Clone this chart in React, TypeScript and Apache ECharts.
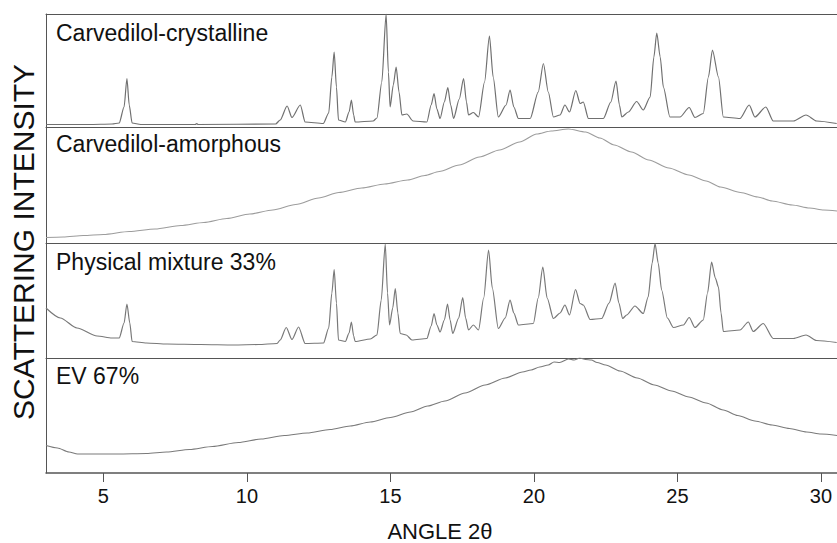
import React, { useEffect, useRef } from "react";
import * as echarts from "echarts";

// 2θ range of the shared x axis
const X_MIN = 3;
const X_MAX = 30.56;
const TICK_VALUES = [5, 10, 15, 20, 25, 30];

const PANEL_TITLES = [
  "Carvedilol-crystalline",
  "Carvedilol-amorphous",
  "Physical mixture 33%",
  "EV 67%",
];

// intensities (arbitrary units)
const crystalline: [number, number][] = [
  [3.0, 2.5], [4.5, 2.5], [5.3, 3], [5.55, 4], [5.72, 20], [5.82, 48.5], [5.9, 22], [6.0, 4], [6.3, 2.5],
  [8.2, 2.5], [8.25, 3.5], [8.3, 2.5], [11.0, 3], [11.16, 7], [11.4, 21], [11.57, 9.5], [11.86, 22],
  [12.03, 5], [12.66, 3.5], [12.85, 14], [12.96, 50], [13.04, 75], [13.12, 40], [13.19, 7], [13.43, 5],
  [13.56, 15], [13.64, 27], [13.72, 12], [13.77, 5], [14.4, 6], [14.53, 9], [14.7, 45], [14.85, 113], [14.93, 55],
  [14.99, 20], [15.1, 42], [15.2, 60], [15.3, 35], [15.4, 12], [15.57, 13], [15.79, 6], [16.27, 5],
  [16.42, 22], [16.52, 33.5], [16.62, 18], [16.73, 8.5], [16.88, 25], [17.0, 39.5], [17.1, 22], [17.2, 8.5],
  [17.4, 28], [17.55, 48.5], [17.65, 25], [17.72, 12], [17.89, 14.5], [18.07, 10], [18.28, 45], [18.45, 91],
  [18.58, 50], [18.76, 10], [19.03, 22], [19.17, 37], [19.3, 20], [19.46, 8.5], [19.87, 8.5], [20.15, 35],
  [20.33, 63.5], [20.5, 35], [20.68, 10], [20.91, 12], [21.08, 22], [21.24, 15], [21.46, 36.5], [21.61, 23.5],
  [21.72, 25], [21.9, 8.5], [22.42, 8.5], [22.68, 25], [22.86, 46], [22.98, 22], [23.06, 10], [23.29, 15],
  [23.58, 25.5], [23.81, 17], [24.05, 30], [24.18, 70], [24.28, 94], [24.4, 70], [24.51, 40], [24.74, 10],
  [25.09, 10], [25.41, 19.5], [25.61, 9.5], [25.9, 13.5], [26.08, 50], [26.22, 77], [26.43, 50], [26.6, 10],
  [27.18, 8.5], [27.5, 22], [27.7, 10], [28.08, 20], [28.34, 6], [29.04, 6], [29.48, 12], [29.85, 6],
  [30.55, 3.5],
];

const amorphous: [number, number][] = [
  [3.0, 5.5], [3.6, 6], [4.3, 7.5], [5.0, 8.5], [5.9, 11.5], [6.8, 14], [7.7, 17.5], [8.5, 20.5],
  [9.3, 24.5], [10.1, 29], [10.9, 33], [11.7, 38.5], [12.5, 45], [13.2, 50.5], [14.0, 55], [14.8, 59],
  [15.6, 63], [16.2, 67.5], [16.7, 71.5], [17.4, 78], [18.1, 86], [18.8, 93], [19.5, 101], [20.1, 109],
  [20.6, 112], [21.2, 114], [21.8, 111], [22.3, 105], [22.8, 98], [23.4, 91], [24.0, 83], [24.7, 75],
  [25.4, 68], [26.0, 62], [26.5, 56], [27.2, 50.5], [27.8, 46], [28.3, 42], [29.0, 38], [29.6, 35],
  [30.1, 33], [30.56, 32],
];

const physicalMixture: [number, number][] = [
  [3.0, 50], [3.5, 40], [4.08, 30], [4.78, 22], [5.3, 20], [5.55, 20], [5.72, 35], [5.82, 54], [5.92, 35],
  [6.0, 16.5], [6.5, 15], [7.22, 14], [8.4, 13.5], [9.54, 13], [10.4, 13.5], [11.05, 14.5], [11.16, 18],
  [11.37, 30.5], [11.57, 18.5], [11.8, 31], [12.03, 14.5], [12.67, 15], [12.85, 30], [12.96, 65],
  [13.04, 88.5], [13.12, 55], [13.19, 18], [13.43, 16.5], [13.56, 25], [13.64, 36], [13.72, 22],
  [13.77, 16.5], [14.3, 19], [14.53, 23], [14.68, 58], [14.82, 114], [14.9, 65], [14.97, 33], [15.08, 50],
  [15.17, 69.5], [15.26, 45], [15.34, 24.5], [15.55, 23], [15.75, 18], [16.27, 19.5], [16.42, 32],
  [16.52, 44.5], [16.62, 33], [16.73, 26], [16.88, 38], [16.99, 54], [17.08, 38], [17.17, 24.5], [17.38, 40],
  [17.52, 60.5], [17.62, 40], [17.72, 28], [17.89, 33], [18.07, 28], [18.25, 60], [18.42, 108], [18.55, 70],
  [18.76, 29.5], [19.0, 40], [19.17, 58], [19.3, 45], [19.46, 33], [19.98, 34.5], [20.15, 60], [20.31, 91],
  [20.46, 60], [20.68, 39.5], [20.91, 45], [21.08, 53], [21.24, 43], [21.45, 68.5], [21.61, 54.5],
  [21.72, 53], [21.96, 38.5], [22.36, 39.5], [22.62, 55], [22.83, 75], [22.96, 55], [23.09, 39.5],
  [23.23, 43], [23.52, 52], [23.81, 44.5], [23.98, 61], [24.12, 95], [24.22, 114.5], [24.33, 95],
  [24.45, 68], [24.65, 40], [24.86, 30.5], [25.21, 33], [25.41, 40.5], [25.61, 30.5], [25.9, 38],
  [26.05, 65], [26.19, 96], [26.32, 80], [26.43, 71], [26.52, 45], [26.6, 26.5], [27.18, 28], [27.47, 36],
  [27.64, 26.5], [27.99, 34.5], [28.34, 19.5], [29.04, 19.5], [29.48, 23], [29.85, 17.5], [30.55, 15.5],
];

const ev67: [number, number][] = [
  [3.0, 27.5], [3.4, 25], [3.8, 21], [4.1, 19], [4.6, 19], [5.5, 19], [6.5, 19.5], [7.2, 21], [8.0, 23.5],
  [8.8, 26.5], [9.7, 30.5], [10.5, 34], [11.3, 37.5], [12.1, 40], [12.9, 43.5], [13.6, 47], [14.3, 51],
  [15.0, 55.5], [15.7, 61], [16.3, 67], [16.9, 72], [17.6, 80], [18.3, 88], [19.0, 95], [19.6, 101],
  [19.9, 103], [20.2, 106], [20.5, 108], [20.7, 111], [20.9, 110.5], [21.2, 114], [21.4, 113], [21.6, 115],
  [21.8, 113.5], [22.0, 113], [22.2, 110.5], [22.5, 108], [23.0, 102], [23.6, 95], [24.2, 88], [24.8, 82],
  [25.4, 76], [26.0, 70], [26.6, 63], [27.1, 57.5], [27.7, 52], [28.3, 48], [28.9, 44.5], [29.5, 41],
  [30.0, 39], [30.56, 37.5],
];

const SERIES_DATA = [crystalline, amorphous, physicalMixture, ev67];

// layout (pixels)
const PANEL_TOPS = [14, 127, 243, 358];
const PANEL_HEIGHTS = [113, 116, 115, 115];
const LINE_COLORS = ["#707070", "#9c9c9c", "#787878", "#7a7a7a"];
const FONT = "'Liberation Sans', Arial, Helvetica, sans-serif";

export default function App() {
  const ref = useRef<HTMLDivElement>(null);

  useEffect(() => {
    if (!ref.current) return;
    const chart = echarts.init(ref.current, undefined, { renderer: "svg" });
    const border = { show: true, lineStyle: { color: "#555", width: 1 } };

    const grids = PANEL_TOPS.map((top, i) => ({
      left: 46,
      right: 0,
      top,
      height: PANEL_HEIGHTS[i],
      containLabel: false,
    }));

    const xAxes: any[] = PANEL_TOPS.map((_, i) => {
      const last = i === PANEL_TOPS.length - 1;
      return {
        type: "value",
        gridIndex: i,
        min: X_MIN,
        max: X_MAX,
        position: "bottom",
        axisLine: last ? { show: true, lineStyle: { color: "#555", width: 1.5 } } : border,
        axisTick: last
          ? { show: true, customValues: TICK_VALUES, length: 9, lineStyle: { color: "#555", width: 1 } }
          : { show: false },
        axisLabel: last
          ? { show: true, customValues: TICK_VALUES, fontSize: 20, color: "#111", fontFamily: FONT, margin: 13 }
          : { show: false },
        splitLine: { show: false },
      };
    });
    xAxes.push({
      type: "value",
      gridIndex: 0,
      min: X_MIN,
      max: X_MAX,
      position: "top",
      axisLine: border,
      axisTick: { show: false },
      axisLabel: { show: false },
      splitLine: { show: false },
    });

    const yAxes = PANEL_TOPS.map((_, i) => ({
      type: "value",
      gridIndex: i,
      min: 0,
      max: PANEL_HEIGHTS[i],
      axisLine: border,
      axisTick: { show: false },
      axisLabel: { show: false },
      splitLine: { show: false },
    }));

    const series = SERIES_DATA.map((data, i) => ({
      type: "line",
      xAxisIndex: i,
      yAxisIndex: i,
      data,
      showSymbol: false,
      symbol: "none",
      silent: true,
      smooth: 0.25,
      smoothMonotone: "x",
      lineStyle: { color: LINE_COLORS[i], width: 1.2 },
    }));

    const titleYs = [33, 144, 262, 376];
    const graphics: any[] = PANEL_TITLES.map((t, i) => ({
      type: "text",
      x: 56,
      y: titleYs[i],
      style: {
        text: t,
        fontSize: 23,
        fontFamily: FONT,
        fill: "#111",
        textAlign: "left",
        textVerticalAlign: "middle",
      },
    }));
    graphics.push({
      type: "text",
      x: 440,
      y: 531,
      style: {
        text: "ANGLE 2θ",
        fontSize: 22,
        fontFamily: FONT,
        fill: "#111",
        textAlign: "center",
        textVerticalAlign: "middle",
      },
    });
    graphics.push({
      type: "text",
      x: 23,
      y: 242,
      rotation: Math.PI / 2,
      style: {
        text: "SCATTERING INTENSITY",
        fontSize: 30,
        fontFamily: FONT,
        fill: "#111",
        textAlign: "center",
        textVerticalAlign: "middle",
      },
    });

    chart.setOption({
      animation: false,
      backgroundColor: "#fff",
      grid: grids,
      xAxis: xAxes,
      yAxis: yAxes,
      series,
      graphic: graphics,
    });
    return () => chart.dispose();
  }, []);

  return (
    <div
      ref={ref}
      style={{ position: "fixed", left: 0, top: 0, width: 837, height: 543, background: "#fff" }}
    />
  );
}
